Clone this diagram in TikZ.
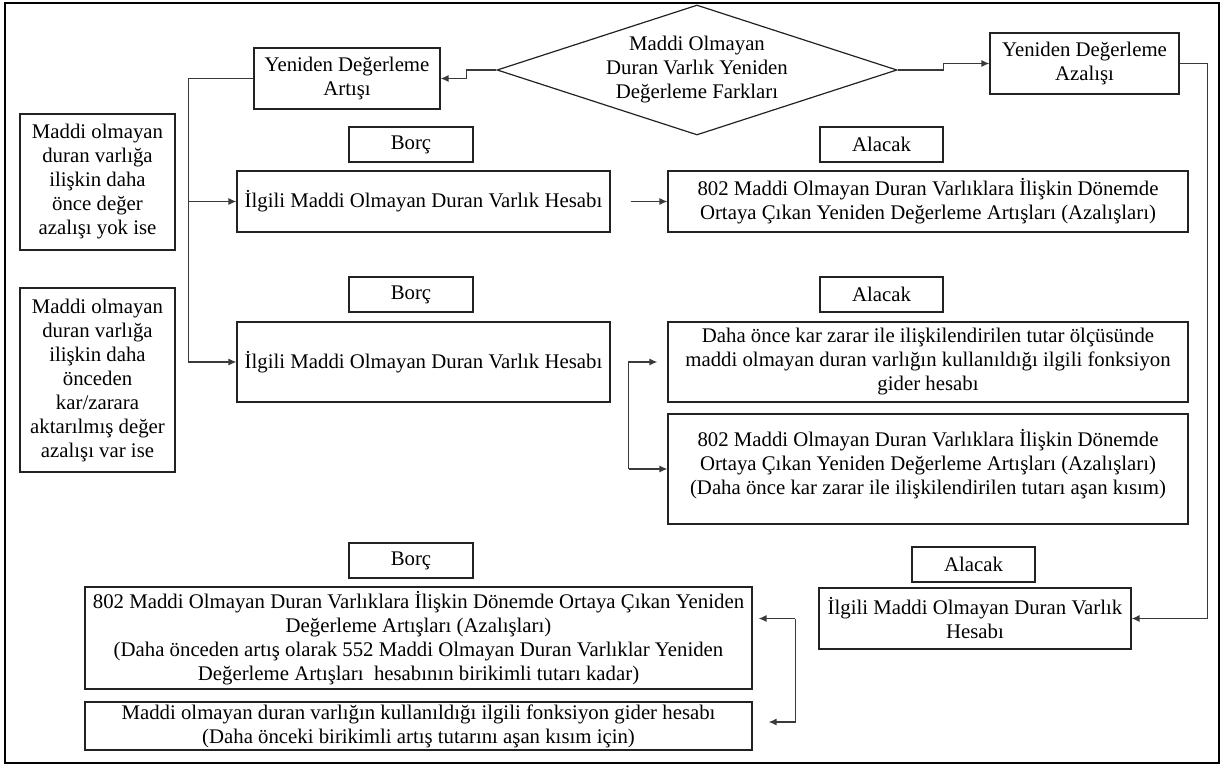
\documentclass[tikz,border=0pt]{standalone}
\usepackage{fontspec}
\setmainfont{Liberation Serif}
\usetikzlibrary{shapes.geometric,arrows.meta}
\definecolor{edge}{HTML}{222222}
\definecolor{conn}{HTML}{3A3A3A}
\begin{document}
\begin{tikzpicture}[x=1pt,y=-1pt,
  font=\fontsize{20.8}{24}\selectfont,
  box/.style={draw=edge,line width=1.2pt,align=center,inner sep=0pt},
  arr/.style={draw=conn,line width=1.3pt,-{Latex[length=8pt,width=7pt]}},
  ln/.style={draw=conn,line width=1.3pt}]
\useasboundingbox (0,0) rectangle (1226,767);
\draw[line width=2pt] (5,3) rectangle (1219,763);
% top row
\node[box,minimum width=186,minimum height=61] (art) at (347,78.5) {Yeniden Değerleme\\Artışı};
\node[diamond,draw=edge,line width=1.2pt,minimum width=400,minimum height=130,inner sep=0pt] (dia) at (697,70) {};
\node[align=center] (diat) at (dia.center) {Maddi Olmayan\\Duran Varlık Yeniden\\Değerleme Farkları};
\node[box,minimum width=189,minimum height=61] (aza) at (1084.5,63.5) {Yeniden Değerleme\\Azalışı};
% left notes
\node[box,minimum width=155,minimum height=136] (left1) at (97.5,182) {Maddi olmayan\\duran varlığa\\ilişkin daha\\önce değer\\azalışı yok ise};
\node[box,minimum width=155,minimum height=184] (left2) at (97.5,380) {Maddi olmayan\\duran varlığa\\ilişkin daha\\önceden\\kar/zarara\\aktarılmış değer\\azalışı var ise};
% first entry
\node[box,minimum width=124,minimum height=35] (borc1) at (411,144.5) {Borç};
\node[box,minimum width=123,minimum height=35] (alacak1) at (881.5,144.5) {Alacak};
\node[box,minimum width=373,minimum height=61] (hes1) at (423.5,201.5) {İlgili Maddi Olmayan Duran Varlık Hesabı};
\node[box,minimum width=520,minimum height=61] (b802a) at (928,201.5) {802 Maddi Olmayan Duran Varlıklara İlişkin Dönemde\\Ortaya Çıkan Yeniden Değerleme Artışları (Azalışları)};
% second entry
\node[box,minimum width=124,minimum height=35] (borc2) at (411,294.5) {Borç};
\node[box,minimum width=123,minimum height=35] (alacak2) at (881.5,294.5) {Alacak};
\node[box,minimum width=373,minimum height=80] (hes2) at (423.5,362) {İlgili Maddi Olmayan Duran Varlık Hesabı};
\node[box,minimum width=520,minimum height=80] (daha) at (928,362) {Daha önce kar zarar ile ilişkilendirilen tutar ölçüsünde\\maddi olmayan duran varlığın kullanıldığı ilgili fonksiyon\\gider hesabı};
\node[box,minimum width=520,minimum height=110,text depth=14pt] (b802b) at (928,469) {802 Maddi Olmayan Duran Varlıklara İlişkin Dönemde\\Ortaya Çıkan Yeniden Değerleme Artışları (Azalışları)\\(Daha önce kar zarar ile ilişkilendirilen tutarı aşan kısım)};
% third entry
\node[box,minimum width=124,minimum height=35] (borc3) at (411,560.5) {Borç};
\node[box,minimum width=123,minimum height=35] (alacak3) at (973.5,564.5) {Alacak};
\node[box,minimum width=667,minimum height=102] (b802c) at (418.5,638) {802 Maddi Olmayan Duran Varlıklara İlişkin Dönemde Ortaya Çıkan Yeniden\\Değerleme Artışları (Azalışları)\\(Daha önceden artış olarak 552 Maddi Olmayan Duran Varlıklar Yeniden\\Değerleme Artışları~ hesabının birikimli tutarı kadar)};
\node[box,minimum width=667,minimum height=48] (maddi) at (418.5,726) {Maddi olmayan duran varlığın kullanıldığı ilgili fonksiyon gider hesabı\\(Daha önceki birikimli artış tutarını aşan kısım için)};
\node[box,minimum width=312,minimum height=61] (hes3) at (975,618.5) {İlgili Maddi Olmayan Duran Varlık\\Hesabı};
% connectors
\draw[arr] (dia.west) -- ++(-30,0) |- (art.east);
\draw[arr] (dia.east) -- ++(46,0) |- (aza.west);
\draw[arr] (aza.east) -- ++(28,0) |- (hes3.east);
\coordinate (j2) at ([xshift=-48pt]hes2.west);
\coordinate (j1) at ([xshift=-48pt]hes1.west);
\draw[arr] (art.west) -| (j2) -- (hes2.west);
\draw[arr] (j1) -- (hes1.west);
\draw[arr,shorten <=20pt] (hes1.east) -- (b802a.west);
\coordinate (bx) at ([xshift=18pt]hes2.east);
\draw[arr] (bx |- b802b.west) -- (b802b.west);
\draw[arr,shorten >=10pt] (bx |- b802b.west) |- (daha.west);
\coordinate (bx2) at ([xshift=-23pt]hes3.west);
\draw[arr,shorten >=6pt] (bx2) -- (b802c.east |- bx2);
\draw[arr,shorten >=16pt] (bx2) |- ([yshift=4pt]maddi.east);
\end{tikzpicture}
\end{document}
